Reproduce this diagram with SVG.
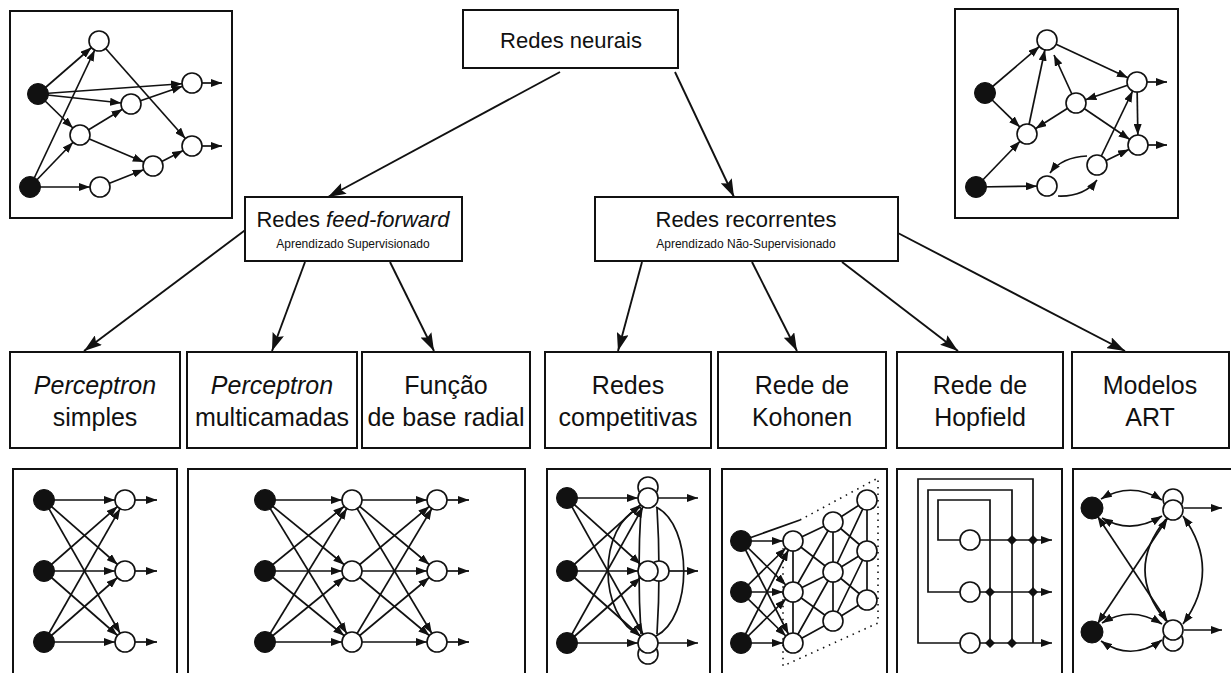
<svg xmlns="http://www.w3.org/2000/svg" width="1231" height="673" viewBox="0 0 1231 673">
  <style>
    .box { fill: #fff; stroke: #111; stroke-width: 2; }
    .e { stroke: #111; stroke-width: 1.7; fill: none; }
    .ea { stroke: #111; stroke-width: 1.7; fill: none; marker-end: url(#ah); }
    .eo { stroke: #111; stroke-width: 1.7; fill: none; marker-end: url(#at); }
    .ed { stroke: #111; stroke-width: 1.7; fill: none; marker-start: url(#ah2); marker-end: url(#ah2); }
    .et { stroke: #111; stroke-width: 1.7; fill: none; marker-start: url(#at2); marker-end: url(#at2); }
    .dot { stroke: #111; stroke-width: 1.6; fill: none; stroke-dasharray: 1.5 5; }
    .tree { stroke: #111; stroke-width: 1.9; fill: none; marker-end: url(#big); }
    .w { fill: #fff; stroke: #111; stroke-width: 1.6; }
    .k { fill: #111; stroke: #111; stroke-width: 1; }
    .dia { fill: #111; }
    text { font-family: "Liberation Sans", Arial, sans-serif; fill: #111; text-anchor: middle; }
    .t1 { font-size: 22px; }
    .t2 { font-size: 12px; }
    .lb { font-size: 25px; }
    .it { font-style: italic; }
  </style>
  <defs>
    <!-- arrowhead that stops 10px short of the line end (node radius) -->
    <marker id="ah" markerUnits="userSpaceOnUse" markerWidth="11" markerHeight="8" refX="21" refY="4" orient="auto">
      <path d="M0,0 L11,4 L0,8 z" fill="#111"/>
    </marker>
    <marker id="ah2" markerUnits="userSpaceOnUse" markerWidth="11" markerHeight="8" refX="21" refY="4" orient="auto-start-reverse">
      <path d="M0,0 L11,4 L0,8 z" fill="#111"/>
    </marker>
    <!-- arrowhead with its tip on the line end -->
    <marker id="at" markerUnits="userSpaceOnUse" markerWidth="11" markerHeight="8" refX="11" refY="4" orient="auto">
      <path d="M0,0 L11,4 L0,8 z" fill="#111"/>
    </marker>
    <marker id="at2" markerUnits="userSpaceOnUse" markerWidth="11" markerHeight="8" refX="11" refY="4" orient="auto-start-reverse">
      <path d="M0,0 L11,4 L0,8 z" fill="#111"/>
    </marker>
    <marker id="big" markerUnits="userSpaceOnUse" markerWidth="18" markerHeight="12" refX="18" refY="6" orient="auto">
      <path d="M0,0 L18,6 L0,12 L3,6 z" fill="#111"/>
    </marker>
  </defs>

  <rect width="1231" height="673" fill="#fff"/>

  <!-- hierarchy connectors -->
  <g id="connectors">
    <line class="tree" x1="560" y1="72" x2="328" y2="197"/>
    <line class="tree" x1="675" y1="72" x2="734" y2="197"/>
    <line class="tree" x1="248" y1="228" x2="84" y2="351"/>
    <line class="tree" x1="305" y1="262" x2="272" y2="351"/>
    <line class="tree" x1="390" y1="262" x2="434" y2="351"/>
    <line class="tree" x1="642" y1="262" x2="618" y2="351"/>
    <line class="tree" x1="752" y1="262" x2="797" y2="351"/>
    <line class="tree" x1="842" y1="262" x2="958" y2="351"/>
    <line class="tree" x1="896" y1="232" x2="1125" y2="351"/>
  </g>

  <!-- category nodes -->
  <g id="redes-neurais">
    <rect class="box" x="463" y="10" width="215" height="58"/>
    <text class="t1" x="571" y="48">Redes neurais</text>
  </g>
  <g id="redes-feedforward">
    <rect class="box" x="245" y="197" width="217" height="64"/>
    <text class="t1" x="353" y="227">Redes <tspan class="it">feed-forward</tspan></text>
    <text class="t2" x="353" y="248">Aprendizado Supervisionado</text>
  </g>
  <g id="redes-recorrentes">
    <rect class="box" x="595" y="197" width="303" height="64"/>
    <text class="t1" x="746" y="227">Redes recorrentes</text>
    <text class="t2" x="746" y="248">Aprendizado Não-Supervisionado</text>
  </g>

  <g id="perceptron-simples">
    <rect class="box" x="10" y="352" width="170" height="96"/>
    <text class="lb it" x="95" y="394">Perceptron</text>
    <text class="lb" x="95" y="426">simples</text>
  </g>
  <g id="perceptron-multicamadas">
    <rect class="box" x="187" y="352" width="170" height="96"/>
    <text class="lb it" x="272" y="394">Perceptron</text>
    <text class="lb" x="272" y="426">multicamadas</text>
  </g>
  <g id="funcao-base-radial">
    <rect class="box" x="362" y="352" width="168" height="96"/>
    <text class="lb" x="446" y="394">Função</text>
    <text class="lb" x="446" y="426">de base radial</text>
  </g>
  <g id="redes-competitivas">
    <rect class="box" x="545" y="352" width="166" height="96"/>
    <text class="lb" x="628" y="394">Redes</text>
    <text class="lb" x="628" y="426">competitivas</text>
  </g>
  <g id="rede-kohonen">
    <rect class="box" x="718" y="352" width="168" height="96"/>
    <text class="lb" x="802" y="394">Rede de</text>
    <text class="lb" x="802" y="426">Kohonen</text>
  </g>
  <g id="rede-hopfield">
    <rect class="box" x="897" y="352" width="166" height="96"/>
    <text class="lb" x="980" y="394">Rede de</text>
    <text class="lb" x="980" y="426">Hopfield</text>
  </g>
  <g id="modelos-art">
    <rect class="box" x="1072" y="352" width="157" height="96"/>
    <text class="lb" x="1150" y="394">Modelos</text>
    <text class="lb" x="1150" y="426">ART</text>
  </g>

  <!-- generic feed-forward network -->
  <g id="exemplo-feedforward">
    <rect class="box" x="10" y="11" width="222" height="207"/>
    <line class="ea" x1="38" y1="94" x2="99" y2="41"/>
    <line class="ea" x1="38" y1="94" x2="192" y2="83"/>
    <line class="ea" x1="38" y1="94" x2="131" y2="104"/>
    <line class="ea" x1="38" y1="94" x2="80" y2="135"/>
    <line class="ea" x1="30" y1="187" x2="99" y2="41"/>
    <line class="ea" x1="30" y1="187" x2="80" y2="135"/>
    <line class="ea" x1="30" y1="187" x2="100" y2="187"/>
    <line class="ea" x1="99" y1="41" x2="192" y2="146"/>
    <line class="ea" x1="80" y1="135" x2="131" y2="104"/>
    <line class="ea" x1="80" y1="135" x2="153" y2="166"/>
    <line class="ea" x1="131" y1="104" x2="192" y2="83"/>
    <line class="ea" x1="100" y1="187" x2="153" y2="166"/>
    <line class="ea" x1="153" y1="166" x2="192" y2="146"/>
    <line class="eo" x1="202" y1="83" x2="222" y2="83"/>
    <line class="eo" x1="202" y1="146" x2="222" y2="146"/>
    <circle class="k" cx="38" cy="94" r="10.5"/>
    <circle class="k" cx="30" cy="187" r="10.5"/>
    <circle class="w" cx="99" cy="41" r="10"/>
    <circle class="w" cx="131" cy="104" r="10"/>
    <circle class="w" cx="80" cy="135" r="10"/>
    <circle class="w" cx="100" cy="187" r="10"/>
    <circle class="w" cx="153" cy="166" r="10"/>
    <circle class="w" cx="192" cy="83" r="10"/>
    <circle class="w" cx="192" cy="146" r="10"/>
  </g>

  <!-- generic recurrent network -->
  <g id="exemplo-recorrente">
    <rect class="box" x="955" y="9" width="223" height="209"/>
    <line class="ea" x1="985" y1="93" x2="1047" y2="40"/>
    <line class="ea" x1="985" y1="93" x2="1027" y2="134"/>
    <line class="ea" x1="976" y1="187" x2="1027" y2="134"/>
    <line class="ea" x1="976" y1="187" x2="1047" y2="186"/>
    <line class="ea" x1="1027" y1="134" x2="1047" y2="40"/>
    <line class="ea" x1="1047" y1="40" x2="1137" y2="82"/>
    <line class="eo" x1="1076" y1="103" x2="1054" y2="55"/>
    <line class="ea" x1="1137" y1="82" x2="1076" y2="103"/>
    <line class="ea" x1="1076" y1="103" x2="1027" y2="134"/>
    <line class="ea" x1="1076" y1="103" x2="1138" y2="145"/>
    <line class="ea" x1="1137" y1="82" x2="1138" y2="145"/>
    <line class="ea" x1="1097" y1="165" x2="1137" y2="82"/>
    <line class="ea" x1="1097" y1="165" x2="1138" y2="145"/>
    <path class="eo" d="M1087,156 Q1062,157 1050,173"/>
    <path class="eo" d="M1058,196 Q1084,197 1097,180"/>
    <line class="eo" x1="1147" y1="82" x2="1167" y2="82"/>
    <line class="eo" x1="1148" y1="145" x2="1167" y2="145"/>
    <circle class="k" cx="985" cy="93" r="10.5"/>
    <circle class="k" cx="976" cy="187" r="10.5"/>
    <circle class="w" cx="1047" cy="40" r="10"/>
    <circle class="w" cx="1027" cy="134" r="10"/>
    <circle class="w" cx="1076" cy="103" r="10"/>
    <circle class="w" cx="1137" cy="82" r="10"/>
    <circle class="w" cx="1138" cy="145" r="10"/>
    <circle class="w" cx="1097" cy="165" r="10"/>
    <circle class="w" cx="1047" cy="186" r="10"/>
  </g>

  <!-- single-layer perceptron -->
  <g id="rede-perceptron-simples">
    <rect class="box" x="13" y="469" width="164" height="220"/>
    <line class="ea" x1="44" y1="500" x2="125" y2="500"/>
    <line class="ea" x1="44" y1="500" x2="125" y2="571"/>
    <line class="ea" x1="44" y1="500" x2="125" y2="642"/>
    <line class="ea" x1="44" y1="571" x2="125" y2="500"/>
    <line class="ea" x1="44" y1="571" x2="125" y2="571"/>
    <line class="ea" x1="44" y1="571" x2="125" y2="642"/>
    <line class="ea" x1="44" y1="642" x2="125" y2="500"/>
    <line class="ea" x1="44" y1="642" x2="125" y2="571"/>
    <line class="ea" x1="44" y1="642" x2="125" y2="642"/>
    <line class="eo" x1="135" y1="500" x2="157" y2="500"/>
    <line class="eo" x1="135" y1="571" x2="157" y2="571"/>
    <line class="eo" x1="135" y1="642" x2="157" y2="642"/>
    <circle class="k" cx="44" cy="500" r="10.5"/>
    <circle class="k" cx="44" cy="571" r="10.5"/>
    <circle class="k" cx="44" cy="642" r="10.5"/>
    <circle class="w" cx="125" cy="500" r="10"/>
    <circle class="w" cx="125" cy="571" r="10"/>
    <circle class="w" cx="125" cy="642" r="10"/>
  </g>

  <!-- multilayer perceptron / radial basis -->
  <g id="rede-multicamadas">
    <rect class="box" x="188" y="469" width="337" height="220"/>
    <line class="ea" x1="265" y1="500" x2="352" y2="500"/>
    <line class="ea" x1="265" y1="500" x2="352" y2="571"/>
    <line class="ea" x1="265" y1="500" x2="352" y2="642"/>
    <line class="ea" x1="265" y1="571" x2="352" y2="500"/>
    <line class="ea" x1="265" y1="571" x2="352" y2="571"/>
    <line class="ea" x1="265" y1="571" x2="352" y2="642"/>
    <line class="ea" x1="265" y1="642" x2="352" y2="500"/>
    <line class="ea" x1="265" y1="642" x2="352" y2="571"/>
    <line class="ea" x1="265" y1="642" x2="352" y2="642"/>
    <line class="ea" x1="352" y1="500" x2="437" y2="500"/>
    <line class="ea" x1="352" y1="500" x2="437" y2="571"/>
    <line class="ea" x1="352" y1="500" x2="437" y2="642"/>
    <line class="ea" x1="352" y1="571" x2="437" y2="500"/>
    <line class="ea" x1="352" y1="571" x2="437" y2="571"/>
    <line class="ea" x1="352" y1="571" x2="437" y2="642"/>
    <line class="ea" x1="352" y1="642" x2="437" y2="500"/>
    <line class="ea" x1="352" y1="642" x2="437" y2="571"/>
    <line class="ea" x1="352" y1="642" x2="437" y2="642"/>
    <line class="eo" x1="447" y1="500" x2="469" y2="500"/>
    <line class="eo" x1="447" y1="571" x2="469" y2="571"/>
    <line class="eo" x1="447" y1="642" x2="469" y2="642"/>
    <circle class="k" cx="265" cy="500" r="10.5"/>
    <circle class="k" cx="265" cy="571" r="10.5"/>
    <circle class="k" cx="265" cy="642" r="10.5"/>
    <circle class="w" cx="352" cy="500" r="10"/>
    <circle class="w" cx="352" cy="571" r="10"/>
    <circle class="w" cx="352" cy="642" r="10"/>
    <circle class="w" cx="437" cy="500" r="10"/>
    <circle class="w" cx="437" cy="571" r="10"/>
    <circle class="w" cx="437" cy="642" r="10"/>
  </g>

  <!-- competitive network -->
  <g id="rede-competitiva">
    <rect class="box" x="547" y="469" width="163" height="220"/>
    <path class="e" d="M641,507 C597,525 597,617 641,636"/>
    <path class="e" d="M656,507 C693,525 693,617 656,636"/>
    <path class="e" d="M641,508 Q637,571 641,634"/>
    <path class="e" d="M657,508 Q661,571 657,634"/>
    <line class="ea" x1="567" y1="498" x2="648" y2="498"/>
    <line class="ea" x1="567" y1="498" x2="648" y2="571"/>
    <line class="ea" x1="567" y1="498" x2="648" y2="643"/>
    <line class="ea" x1="567" y1="571" x2="648" y2="498"/>
    <line class="ea" x1="567" y1="571" x2="648" y2="571"/>
    <line class="ea" x1="567" y1="571" x2="648" y2="643"/>
    <line class="ea" x1="567" y1="643" x2="648" y2="498"/>
    <line class="ea" x1="567" y1="643" x2="648" y2="571"/>
    <line class="ea" x1="567" y1="643" x2="648" y2="643"/>
    <line class="eo" x1="658" y1="498" x2="698" y2="498"/>
    <line class="eo" x1="669" y1="571" x2="698" y2="571"/>
    <line class="eo" x1="658" y1="643" x2="698" y2="643"/>
    <circle class="k" cx="567" cy="498" r="10.5"/>
    <circle class="k" cx="567" cy="571" r="10.5"/>
    <circle class="k" cx="567" cy="643" r="10.5"/>
    <circle class="w" cx="648" cy="487" r="10"/>
    <circle class="w" cx="648" cy="498" r="10"/>
    <circle class="w" cx="659" cy="571" r="10"/>
    <circle class="w" cx="648" cy="571" r="10"/>
    <circle class="w" cx="648" cy="654" r="10"/>
    <circle class="w" cx="648" cy="643" r="10"/>
  </g>

  <!-- Kohonen map -->
  <g id="rede-kohonen-mapa">
    <rect class="box" x="722" y="469" width="165" height="220"/>
    <path class="dot" d="M800,520 L878,478 L878,623 L783,666 L783,548"/>
    <line class="e" x1="741" y1="541" x2="800" y2="520"/>
    <path class="e" d="M793,541 V643 M833,522 V621 M867,500 V600
      M793,541 L833,522 L867,500 M793,592 L833,572 L867,551 M793,643 L833,621 L867,600
      M793,541 L833,572 M793,592 L833,522 M793,592 L833,621 M793,643 L833,572
      M833,522 L867,551 M833,572 L867,500 M833,572 L867,600 M833,621 L867,551"/>
    <line class="ea" x1="741" y1="541" x2="793" y2="541"/>
    <line class="ea" x1="741" y1="541" x2="793" y2="592"/>
    <line class="ea" x1="741" y1="541" x2="793" y2="643"/>
    <line class="ea" x1="741" y1="592" x2="793" y2="541"/>
    <line class="ea" x1="741" y1="592" x2="793" y2="592"/>
    <line class="ea" x1="741" y1="592" x2="793" y2="643"/>
    <line class="ea" x1="741" y1="643" x2="793" y2="541"/>
    <line class="ea" x1="741" y1="643" x2="793" y2="592"/>
    <line class="ea" x1="741" y1="643" x2="793" y2="643"/>
    <circle class="k" cx="741" cy="541" r="10.5"/>
    <circle class="k" cx="741" cy="592" r="10.5"/>
    <circle class="k" cx="741" cy="643" r="10.5"/>
    <circle class="w" cx="793" cy="541" r="10"/>
    <circle class="w" cx="793" cy="592" r="10"/>
    <circle class="w" cx="793" cy="643" r="10"/>
    <circle class="w" cx="833" cy="522" r="10"/>
    <circle class="w" cx="833" cy="572" r="10"/>
    <circle class="w" cx="833" cy="621" r="10"/>
    <circle class="w" cx="867" cy="500" r="10"/>
    <circle class="w" cx="867" cy="551" r="10"/>
    <circle class="w" cx="867" cy="600" r="10"/>
  </g>

  <!-- Hopfield network -->
  <g id="rede-hopfield-circuito">
    <rect class="box" x="897" y="469" width="165" height="220"/>
    <path class="e" d="M960,540 H938 V500 H990 V643"/>
    <path class="e" d="M960,592 H928 V490 H1012 V643"/>
    <path class="e" d="M960,643 H918 V479 H1033 V643"/>
    <line class="eo" x1="980" y1="540" x2="1052" y2="540"/>
    <line class="eo" x1="980" y1="592" x2="1052" y2="592"/>
    <line class="eo" x1="980" y1="643" x2="1052" y2="643"/>
    <path class="dia" d="M1012,535 l5,5 l-5,5 l-5,-5 z M1033,535 l5,5 l-5,5 l-5,-5 z
      M990,587 l5,5 l-5,5 l-5,-5 z M1033,587 l5,5 l-5,5 l-5,-5 z
      M990,638 l5,5 l-5,5 l-5,-5 z M1012,638 l5,5 l-5,5 l-5,-5 z"/>
    <circle class="w" cx="970" cy="540" r="10"/>
    <circle class="w" cx="970" cy="592" r="10"/>
    <circle class="w" cx="970" cy="643" r="10"/>
  </g>

  <!-- ART model -->
  <g id="rede-art">
    <rect class="box" x="1073" y="469" width="170" height="220"/>
    <path class="et" d="M1101,499 Q1131,481 1162,500"/>
    <path class="et" d="M1102,518 Q1131,535 1162,516"/>
    <path class="et" d="M1102,623 Q1131,605 1162,624"/>
    <path class="et" d="M1101,641 Q1131,662 1162,640"/>
    <line class="ed" x1="1092" y1="508" x2="1173" y2="630"/>
    <line class="ed" x1="1092" y1="632" x2="1173" y2="510"/>
    <path class="e" d="M1166,519 Q1124,570 1166,621"/>
    <path class="et" d="M1183,516 Q1222,570 1183,624"/>
    <line class="eo" x1="1184" y1="508" x2="1222" y2="508"/>
    <line class="eo" x1="1184" y1="630" x2="1222" y2="630"/>
    <circle class="k" cx="1092" cy="508" r="11"/>
    <circle class="k" cx="1092" cy="632" r="11"/>
    <circle class="w" cx="1173" cy="499" r="10"/>
    <circle class="w" cx="1173" cy="510" r="10"/>
    <circle class="w" cx="1173" cy="641" r="10"/>
    <circle class="w" cx="1173" cy="630" r="10"/>
  </g>
</svg>
